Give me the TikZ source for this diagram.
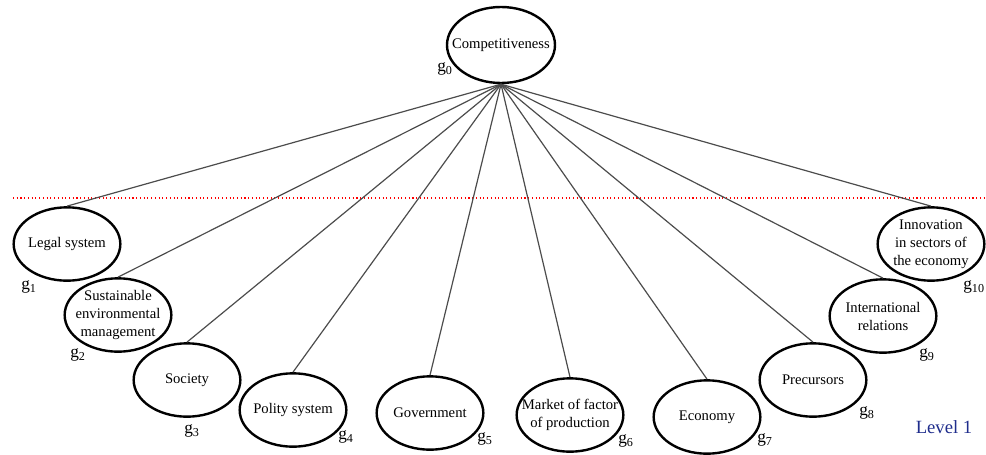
\documentclass[tikz,border=0pt]{standalone}
\usepackage{fontspec}
\setmainfont{Liberation Serif}
\usetikzlibrary{shapes.geometric}

\definecolor{levelblue}{RGB}{31,45,140}

\tikzset{
    factor/.style={draw, ellipse, line width=1.8pt, minimum width=80pt, minimum height=55pt, inner sep=0pt},
    inside/.style={align=center, inner sep=0pt, font=\fontsize{11}{13.5}\selectfont},
    gname/.style={inner sep=0pt, font=\fontsize{13}{15}\selectfont},
    link/.style={draw=black!70, line width=0.9pt},
  }

\begin{document}
\begin{tikzpicture}[x=0.75pt, y=-0.75pt]

\useasboundingbox (0,0) rectangle (986,454);

% goal
  \node[factor, minimum width=81pt, minimum height=57pt, label={[inside]center:Competitiveness}] (g0) at (501,45) {};
  \node[gname] (n0) at (445,69) {g\textsubscript{0}};

% level separator
  \draw[red, dotted, line width=0.8pt] (13,198) -- (986,198);

% criteria of level 1
  \node[factor, label={[inside]center:Legal system}] (g1) at (67,244) {};
  \node[factor, label={[inside]center:Sustainable\\environmental\\management}] (g2) at (118,315) {};
  \node[factor, label={[inside]center:Society}] (g3) at (187,380) {};
  \node[factor, label={[inside]center:Polity system}] (g4) at (293,410) {};
  \node[factor, label={[inside]center:Government}] (g5) at (430,413) {};
  \node[factor, label={[inside]center:Market of factor\\of production}] (g6) at (570,415) {};
  \node[factor, label={[inside]center:Economy}] (g7) at (707,417) {};
  \node[factor, label={[inside]center:Precursors}] (g8) at (813,380) {};
  \node[factor, label={[inside]center:International\\relations}] (g9) at (883,316) {};
  \node[factor, label={[inside]center:Innovation\\in sectors of\\the economy}] (g10) at (931,244) {};

% names of the criteria
  \node[gname] (n1) at (29,287) {g\textsubscript{1}};
  \node[gname] (n2) at (78,355) {g\textsubscript{2}};
  \node[gname] (n3) at (192,431) {g\textsubscript{3}};
  \node[gname] (n4) at (346,437) {g\textsubscript{4}};
  \node[gname] (n5) at (485,439) {g\textsubscript{5}};
  \node[gname] (n6) at (626,441) {g\textsubscript{6}};
  \node[gname] (n7) at (765,440) {g\textsubscript{7}};
  \node[gname] (n8) at (867,413) {g\textsubscript{8}};
  \node[gname] (n9) at (927,355) {g\textsubscript{9}};
  \node[gname, anchor=west] (n10) at (963,287) {g\textsubscript{10}};

% links from the goal
  \foreach \i in {1,...,10}
    \draw[link] (g0.south) -- (g\i.north);

  \node[text=levelblue, font=\fontsize{14}{16}\selectfont] (level1) at (944,427) {Level 1};

\end{tikzpicture}
\end{document}
